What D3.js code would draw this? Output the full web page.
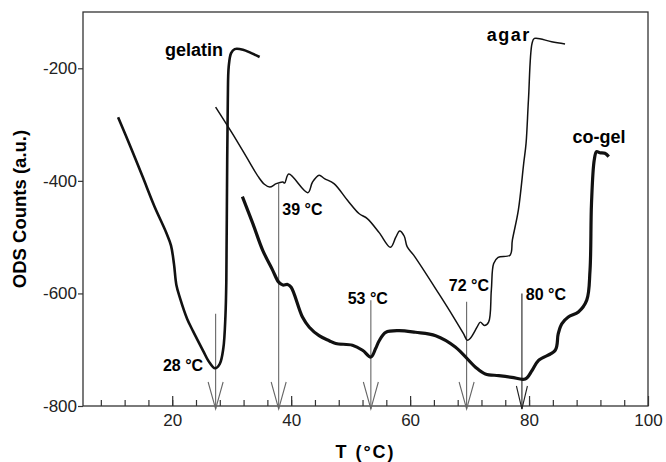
<!DOCTYPE html>
<html>
<head>
<meta charset="utf-8">
<script src="https://cdn.jsdelivr.net/npm/d3@7"></script>
<style>
  body { margin: 0; background: #fff; }
  text { font-family: "Liberation Sans", Arial, sans-serif; }
</style>
</head>
<body>
<div id="chart"></div>
<script>
const WIDTH = 666;
const HEIGHT = 462;
const MARGIN = { top: 12, right: 18, bottom: 56, left: 83 };

// curves: [T (°C), ODS counts]
const gelatin = [
    [10.9, -287], [13, -340], [15, -392], [17, -445], [19, -492], [19.8, -515],
    [20.3, -548], [20.7, -585], [21.3, -608], [22.5, -645], [23.5, -667],
    [25.2, -702], [26.1, -720], [27.2, -733], [28.0, -725], [28.6, -697],
    [28.95, -640], [29.1, -577], [29.2, -434], [29.35, -256], [29.5, -197],
    [29.9, -173], [30.5, -166], [31.9, -167], [33.3, -173], [34.7, -180]
];
const agar = [
    [27.3, -269], [30, -314], [32.45, -357], [34.5, -393], [35.5, -406],
    [36.4, -411], [37.5, -405], [38.6, -402], [38.9, -404], [39.6, -388],
    [42.8, -421], [43.6, -402], [44.7, -390], [45.6, -396], [47.2, -405],
    [49.5, -435], [51.4, -458], [52.8, -467], [54.8, -492], [56.7, -518],
    [57.6, -500], [58.25, -489], [59, -498], [59.5, -517], [60.6, -532],
    [64.8, -600], [67.3, -642], [69.0, -672], [69.6, -683], [70.1, -680],
    [71.25, -660], [71.8, -651], [72.5, -657], [73.2, -651], [73.66, -594],
    [74.05, -547], [74.8, -536], [76.8, -532], [77.2, -505], [78.2, -452],
    [79.1, -369], [79.5, -333], [79.9, -256], [80.5, -156], [80.9, -147],
    [83.8, -153], [86.05, -157]
];
const cogel = [
    [31.8, -428], [33.56, -476], [35.2, -523], [36.9, -559], [37.9, -580],
    [38.6, -585], [39.4, -584], [40.0, -589], [41.9, -642], [43.05, -660],
    [44.7, -675], [46.4, -684], [47.5, -689], [50.3, -692], [52, -701],
    [53.4, -713], [54.2, -698], [54.8, -684], [55.9, -669], [58.1, -666],
    [60.9, -669], [64.3, -675], [67.6, -695], [71, -731], [72.65, -743],
    [74.9, -746], [77.1, -749], [79.35, -752], [80.5, -737], [81.6, -719],
    [84.4, -701], [84.9, -672], [85.5, -654], [86.6, -642], [88.3, -633],
    [89.7, -612], [90.25, -559], [90.5, -440], [90.96, -363], [91.35, -348],
    [91.9, -350], [92.75, -351], [93.4, -357]
];

const seriesNames = ["gelatin", "agar", "co-gel"];
const seriesLabelAt = [[18.8, -179], [72.9, -151], [87.3, -332]];

// transition arrows: temperature, top of the line, label text and label anchor
const arrowT = [27.3, 37.9, 53.4, 69.5, 78.8];
const arrowTop = [-636, -405, -612, -615, -600];
const arrowLabels = ["28 °C", "39 °C", "53 °C", "72 °C", "80 °C"];
const arrowLabelAt = [[25.2, -738], [38.5, -460], [49.5, -618], [66.5, -596], [79.45, -611]];

const xTicksMajor = [20, 40, 60, 80, 100];
const xTicksMinor = d3.range(8, 100, 4);
const yTicks = [-800, -600, -400, -200];

const svg = d3.select("#chart")
    .append("svg")
    .attr("width", WIDTH)
    .attr("height", HEIGHT);

const x = d3.scaleLinear()
    .domain([5, 100])
    .range([MARGIN.left, WIDTH - MARGIN.right]);

const y = d3.scaleLinear()
    .domain([-800, -100])
    .range([HEIGHT - MARGIN.bottom, MARGIN.top]);

// frame
svg.append("rect")
    .attr("x", x(5))
    .attr("y", y(-100))
    .attr("width", x(100) - x(5))
    .attr("height", y(-800) - y(-100))
    .attr("fill", "none")
    .attr("stroke", "#333")
    .attr("stroke-width", 1.3);

// x axis, ticks pointing inward
svg.append("g")
    .attr("transform", "translate(0," + y(-800) + ")")
    .call(d3.axisBottom(x).tickValues(xTicksMinor).tickSize(-6).tickSizeOuter(0).tickFormat(""))
    .call(g => g.select(".domain").remove());

svg.append("g")
    .attr("class", "x-axis")
    .attr("transform", "translate(0," + y(-800) + ")")
    .call(d3.axisBottom(x).tickValues(xTicksMajor).tickSize(-10).tickSizeOuter(0).tickPadding(8))
    .call(g => g.select(".domain").remove());

svg.append("g")
    .attr("class", "y-axis")
    .attr("transform", "translate(" + x(5) + ",0)")
    .call(d3.axisLeft(y).tickValues(yTicks).tickSize(5).tickSizeOuter(0).tickPadding(1)
        .tickFormat(d => String(d)))
    .call(g => g.select(".domain").remove());

svg.selectAll(".tick line").attr("stroke", "#333").attr("stroke-width", 1.2);
svg.selectAll(".tick text")
    .attr("fill", "#222")
    .style("font-size", "17px")
    .style("font-family", "'Liberation Sans', Arial, sans-serif");

// axis titles
svg.append("text")
    .attr("x", (x(5) + x(100)) / 2)
    .attr("y", 458)
    .attr("text-anchor", "middle")
    .style("font-size", "18px")
    .style("font-weight", "bold")
    .style("letter-spacing", "2px")
    .text("T (°C)");

svg.append("text")
    .attr("transform", "translate(26," + ((y(-100) + y(-800)) / 2) + ") rotate(-90)")
    .attr("text-anchor", "middle")
    .style("font-size", "18.5px")
    .style("font-weight", "bold")
    .text("ODS Counts (a.u.)");

// arrows
const tipY = y(-800) + 3;
arrowT.forEach(function(t, i) {
    const ax = x(t);
    const g = svg.append("g").attr("stroke", i == 4 ? "#222" : "#666").attr("fill", "none");
    g.append("line")
        .attr("x1", ax).attr("x2", ax)
        .attr("y1", y(arrowTop[i])).attr("y2", tipY)
        .attr("stroke-width", 1.1);
    const hw = i == 4 ? 5.5 : 7.5;
    const len = i == 4 ? 23 : 27;
    g.append("path")
        .attr("d", "M" + (ax - hw) + "," + (tipY - len) + "L" + ax + "," + tipY + "L" + (ax + hw) + "," + (tipY - len))
        .attr("stroke-width", 1.1);
});

// curves
const line = d3.line()
    .x(d => x(d[0]))
    .y(d => y(d[1]))
    .curve(d3.curveCatmullRom.alpha(0.5));

[gelatin, agar, cogel].forEach(function(data, i) {
    svg.append("path")
        .datum(data)
        .attr("d", line)
        .attr("fill", "none")
        .attr("stroke", "#111")
        .attr("stroke-width", [2.6, 1.5, 3.2][i])
        .attr("stroke-linejoin", "round");
});

// labels
svg.selectAll(".series-label")
    .data(seriesNames)
    .enter()
    .append("text")
    .attr("class", "series-label")
    .attr("x", (d, i) => x(seriesLabelAt[i][0]))
    .attr("y", (d, i) => y(seriesLabelAt[i][1]))
    .style("font-size", "18px")
    .style("font-weight", "bold")
    .style("letter-spacing", d => d == "agar" ? "1.5px" : "0px")
    .text(d => d);

svg.selectAll(".arrow-label")
    .data(arrowLabels)
    .enter()
    .append("text")
    .attr("class", "arrow-label")
    .attr("x", (d, i) => x(arrowLabelAt[i][0]))
    .attr("y", (d, i) => y(arrowLabelAt[i][1]))
    .attr("text-anchor", (d, i) => i == 0 ? "end" : "start")
    .style("font-size", "16px")
    .style("font-weight", "bold")
    .text(d => d);
</script>
</body>
</html>
